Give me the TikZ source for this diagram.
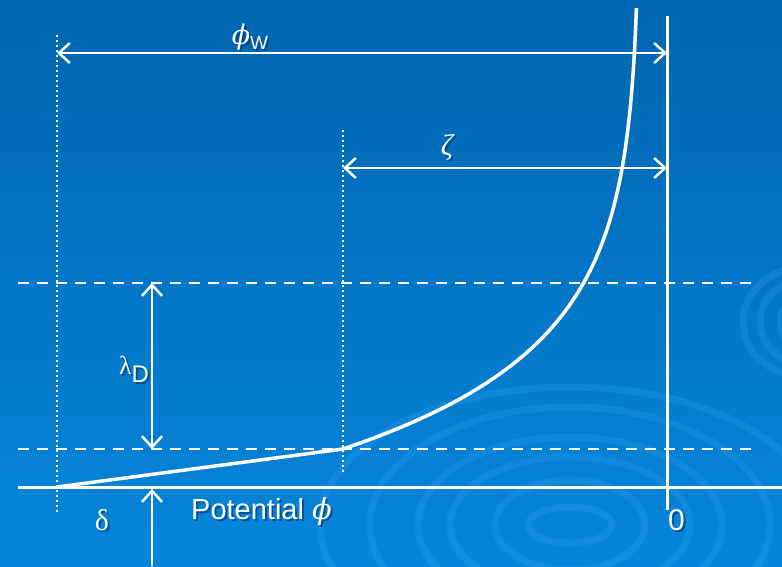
\documentclass[tikz,border=0pt]{standalone}
\usepackage{fontspec}
\setmainfont{Liberation Sans}
\newfontfamily\grk{Liberation Serif}
\newfontfamily\dvs{DejaVu Serif}
\usetikzlibrary{arrows.meta}
\definecolor{bgtop}{RGB}{0,102,176}
\definecolor{bgbot}{RGB}{6,134,219}
\definecolor{ripplec}{RGB}{50,160,240}
\definecolor{shadowc}{RGB}{0,35,80}
\newcommand\myphi{{\dvs\itshape ϕ}}
\tikzset{
  wline/.style={white, line width=3pt},
  dashline/.style={white, line width=2.5pt, dash pattern=on 11pt off 8pt},
  dotline/.style={white, line width=2pt, dash pattern=on 2pt off 3pt},
  barb/.tip={Straight Barb[length=11pt,width=20pt,line width=2.5pt]},
  dimarrow/.style={white, line width=2.5pt, barb-barb},
  onearrow/.style={white, line width=2.5pt, -barb},
  lbl/.style={text=white, inner sep=0pt},
  shd/.style={text=shadowc, opacity=0.5, inner sep=0pt, xshift=2pt, yshift=-2pt},
  ring/.style={draw=ripplec, opacity=0.28, line width=7pt},
}
\begin{document}
\begin{tikzpicture}[x=1pt,y=-1pt]
% background
\shade[top color=bgtop, bottom color=bgbot] (0,0) rectangle (782,566);
\useasboundingbox (0,0) rectangle (782,566);
\begin{scope}
  \clip (0,0) rectangle (782,566);
  \foreach \rx/\ry in {42/18, 75/45, 120/68, 152/88, 200/118, 250/138}
    \draw[ring] (570,525) ellipse [x radius=\rx pt, y radius=\ry pt];
  \foreach \rx/\ry in {25/28, 45/42, 62/55}
    \draw[ring] (805,322) ellipse [x radius=\rx pt, y radius=\ry pt];
\end{scope}

% coordinates
\coordinate (axL) at (18,487);
\coordinate (axR) at (782,487);
\coordinate (wallT) at (667,16);
\coordinate (wallB) at (667,510);
\coordinate (d1L) at (18,283);
\coordinate (d1R) at (757,283);
\coordinate (d2L) at (18,449);
\coordinate (d2R) at (757,449);
\coordinate (v1T) at (57,35);
\coordinate (v1B) at (57,512);
\coordinate (v2T) at (343,130);
\coordinate (v2B) at (343,475);
\coordinate (pwL) at (57,53);
\coordinate (pwR) at (667,53);
\coordinate (zL) at (343,168);
\coordinate (zR) at (667,168);
\coordinate (lT) at (152,283);
\coordinate (lB) at (152,449);
\coordinate (dB) at (152,566);
\coordinate (dT) at (152,489);
\coordinate (c0) at (57,487);
\coordinate (c1) at (343,449);

% guide lines
\draw[dotline] (v1T) -- (v1B);
\draw[dotline] (v2T) -- (v2B);
\draw[dashline] (d1L) -- (d1R);
\draw[dashline] (d2L) -- (d2R);
\draw[wline] (axL) -- (axR);
\draw[wline] (wallT) -- (wallB);

% dimension arrows
\draw[dimarrow] (pwL) -- (pwR);
\draw[dimarrow] (zL) -- (zR);
\draw[dimarrow] (lT) -- (lB);
\draw[onearrow] (dB) -- (dT);

% potential curve
\draw[white, line width=3.5pt, line join=round] (c0) -- (c1)
  -- plot[domain=449:8, samples=80] ({640 - 297*exp(-(449-\x)/100)}, \x);

% labels (with shadows)
\node[shd] at (250,37) {\fontsize{27}{27}\selectfont\myphi\raisebox{-5pt}{\fontsize{19}{19}\selectfont W}};
\node[lbl] (phiw) at (250,37) {\fontsize{27}{27}\selectfont\myphi\raisebox{-5pt}{\fontsize{19}{19}\selectfont W}};
\node[shd] at (447,148) {\fontsize{30}{30}\selectfont{\grk\itshape ζ}};
\node[lbl] (zeta) at (447,148) {\fontsize{30}{30}\selectfont{\grk\itshape ζ}};
\node[shd] at (134,369) {\fontsize{26}{26}\selectfont{\grk λ}\raisebox{-8pt}{\fontsize{24}{24}\selectfont D}};
\node[lbl] (lamd) at (134,369) {\fontsize{26}{26}\selectfont{\grk λ}\raisebox{-8pt}{\fontsize{24}{24}\selectfont D}};
\node[shd] at (102,520) {\fontsize{30}{30}\selectfont\grk δ};
\node[lbl] (delta) at (102,520) {\fontsize{30}{30}\selectfont\grk δ};
\node[shd, anchor=base west] at (191,519) {\fontsize{29}{29}\selectfont Potential \myphi};
\node[lbl, anchor=base west] (pot) at (191,519) {\fontsize{29}{29}\selectfont Potential \myphi};
\node[shd, anchor=base west] at (668,530) {\fontsize{30}{30}\selectfont 0};
\node[lbl, anchor=base west] (zero) at (668,530) {\fontsize{30}{30}\selectfont 0};
\end{tikzpicture}
\end{document}
